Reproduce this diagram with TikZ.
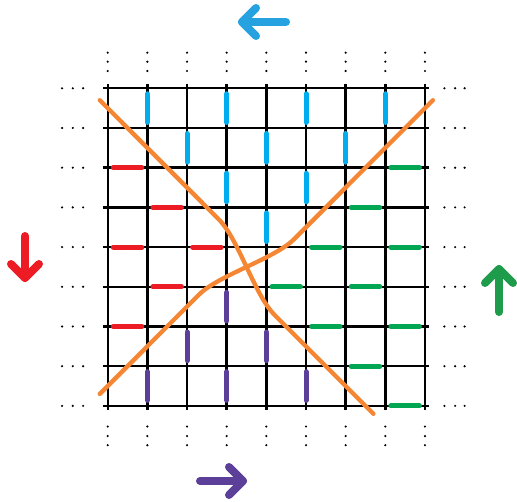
\documentclass[tikz,border=0pt]{standalone}
\definecolor{segblue}{HTML}{00AEEF}
\definecolor{arrblue}{HTML}{27A2E1}
\definecolor{segred}{HTML}{ED1C24}
\definecolor{seggreen}{HTML}{00A651}
\definecolor{arrgreen}{HTML}{1E9C4B}
\definecolor{segpurple}{HTML}{5B3F98}
\definecolor{curveorange}{HTML}{F58634}
\begin{document}
\begin{tikzpicture}[x=1pt,y=-1pt,
  gridline/.style={line width=2.4pt, black},
  seg/.style={line width=5pt, line cap=round},
  bigarrow/.style={line width=8pt, line cap=round, line join=round},
  braid/.style={line width=4.3pt, curveorange, line cap=round},
  dotmark/.style={fill=black}]
\useasboundingbox (0,0) rectangle (517,502);
\begin{scope}[shift={(107.7,88.3)}, x=39.66pt, y=-39.7pt]
  % grid
  \foreach \i in {0,...,8} {
    \draw[gridline] (\i,-0.11) -- (\i,8.11);
    \draw[gridline] (-0.11,\i) -- (8.11,\i);
  }
  % ellipsis dots
  \foreach \i in {0,...,8} {
    \foreach \d in {-0.897,-0.67,-0.435,8.52,8.76,8.99}
      \fill[dotmark] (\i,\d) circle[radius=1.2pt];
    \foreach \d in {-1.15,-0.88,-0.62,8.49,8.76,9.0}
      \fill[dotmark] (\d,\i) circle[radius=1.2pt];
  }
  % blue vertical segments
  \foreach \i/\r in {1/0,3/0,5/0,7/0,2/1,4/1,6/1,3/2,5/2,4/3}
    \draw[seg, segblue] (\i,\r+0.14) -- (\i,\r+0.86);
  % purple vertical segments
  \foreach \i/\r in {3/5,2/6,4/6,1/7,3/7,5/7}
    \draw[seg, segpurple] (\i,\r+0.14) -- (\i,\r+0.86);
  % red horizontal segments
  \foreach \c/\j in {0/2,1/3,0/4,2/4,1/5,0/6}
    \draw[seg, segred] (\c+0.14,\j) -- (\c+0.86,\j);
  % green horizontal segments
  \foreach \c/\j in {7/2,6/3,5/4,7/4,4/5,6/5,5/6,7/6,6/7,7/8}
    \draw[seg, seggreen] (\c+0.14,\j) -- (\c+0.86,\j);
  % orange strands
  \coordinate (a0) at (-0.2,0.3);
  \coordinate (a1) at (2.8,3.3);
  \coordinate (a2) at (4.2,5.7);
  \coordinate (a3) at (6.7,8.2);
  \coordinate (b0) at (-0.2,7.7);
  \coordinate (b1) at (2.3,5.2);
  \coordinate (b2) at (4.7,3.8);
  \coordinate (b3) at (8.2,0.3);
  \draw[braid] (a0) -- (a1) .. controls (3.3,3.8) and (3.7,5.2) .. (a2) -- (a3);
  \draw[braid] (b0) -- (b1) .. controls (2.8,4.7) and (4.2,4.3) .. (b2) -- (b3);
\end{scope}
% direction arrows
\draw[bigarrow, arrblue] (286,22) -- (242,22);
\draw[bigarrow, arrblue] (256,8) -- (242,22) -- (256,36);
\draw[bigarrow, segpurple] (200,481) -- (243,481);
\draw[bigarrow, segpurple] (229,467) -- (243,481) -- (229,495);
\draw[bigarrow, segred] (25,236) -- (25,278);
\draw[bigarrow, segred] (11,264) -- (25,278) -- (39,264);
\draw[bigarrow, arrgreen] (499,312) -- (499,269);
\draw[bigarrow, arrgreen] (485,283) -- (499,269) -- (513,283);
\end{tikzpicture}
\end{document}
